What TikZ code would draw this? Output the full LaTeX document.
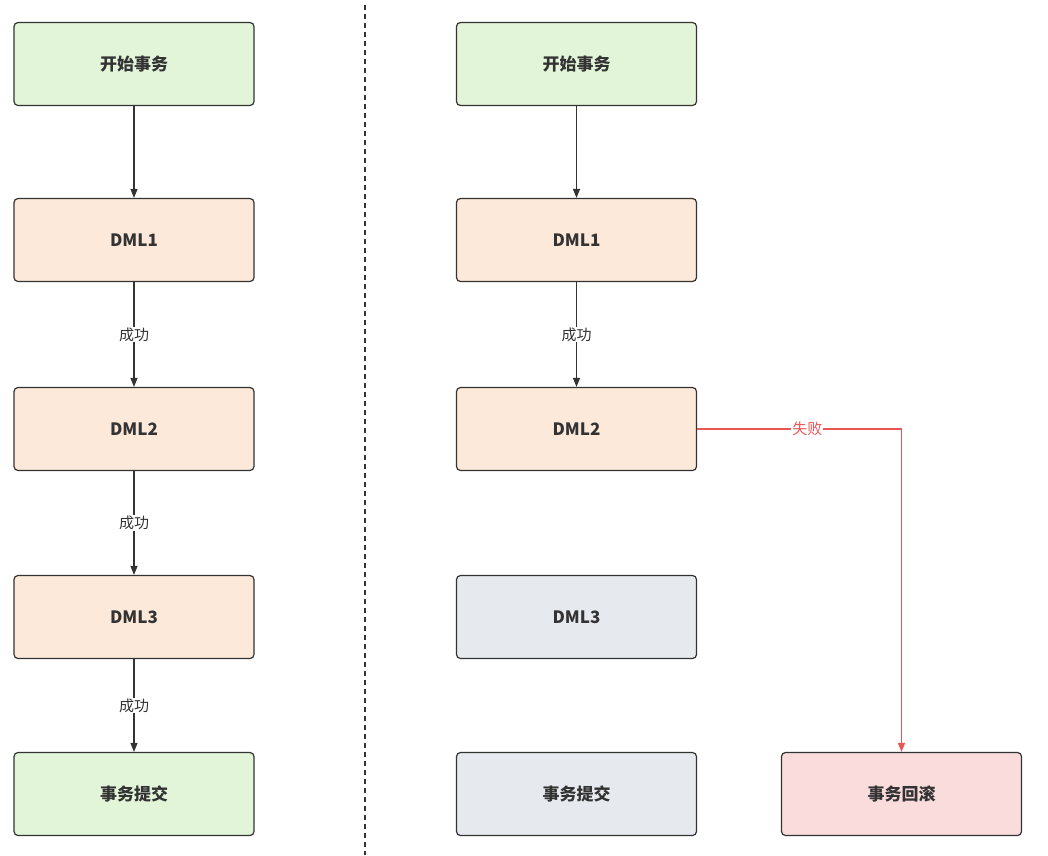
\documentclass[tikz,border=0pt]{standalone}
\usepackage{fontspec}
\setmainfont{Noto Sans CJK SC}
\usetikzlibrary{arrows.meta}
\definecolor{gfill}{HTML}{E3F5D9}
\definecolor{ofill}{HTML}{FCE9D9}
\definecolor{xfill}{HTML}{E6EAEE}
\definecolor{pfill}{HTML}{FBDCDC}
\definecolor{edge}{HTML}{333333}
\definecolor{redl}{HTML}{EA5555}
\begin{document}
\begin{tikzpicture}[x=1pt,y=-1pt,
 box/.style={draw=edge,line width=1.2pt,rounded corners=4pt,minimum width=240pt,minimum height=83pt,font=\fontsize{17}{20}\selectfont\bfseries,text=edge},
 arr/.style={draw=edge,line width=1.2pt,-{Triangle[length=9pt,width=7pt]}},
 lab/.style={fill=white,font=\fontsize{15}{18}\selectfont,text=edge,inner sep=1pt}]
\useasboundingbox (0,0) rectangle (1048,855);
\draw[edge,line width=1.2pt,dash pattern=on 5pt off 4pt] (365,5) -- (365,855);
\node[box,fill=gfill] (a1) at (134,64) {开始事务};
\node[box,fill=ofill] (a2) at (134,240) {DML1};
\node[box,fill=ofill] (a3) at (134,429) {DML2};
\node[box,fill=ofill] (a4) at (134,617) {DML3};
\node[box,fill=gfill] (a5) at (134,794) {事务提交};
\draw[arr] (a1) -- (a2);
\draw[arr] (a2) -- node[lab]{成功} (a3);
\draw[arr] (a3) -- node[lab]{成功} (a4);
\draw[arr] (a4) -- node[lab,pos=0.5]{成功} (a5);
\node[box,fill=gfill] (b1) at (576.5,64) {开始事务};
\node[box,fill=ofill] (b2) at (576.5,240) {DML1};
\node[box,fill=ofill] (b3) at (576.5,429) {DML2};
\node[box,fill=xfill] (b4) at (576.5,617) {DML3};
\node[box,fill=xfill] (b5) at (576.5,794) {事务提交};
\node[box,fill=pfill] (r) at (901.5,794) {事务回滚};
\draw[arr] (b1) -- (b2);
\draw[arr] (b2) -- node[lab]{成功} (b3);
\draw[draw=redl,line width=1.2pt,-{Triangle[length=9pt,width=7pt]}] (b3.east) -- node[lab,text=redl,pos=0.54]{失败} (r.north |- b3.east) -- (r.north);
\end{tikzpicture}
\end{document}
